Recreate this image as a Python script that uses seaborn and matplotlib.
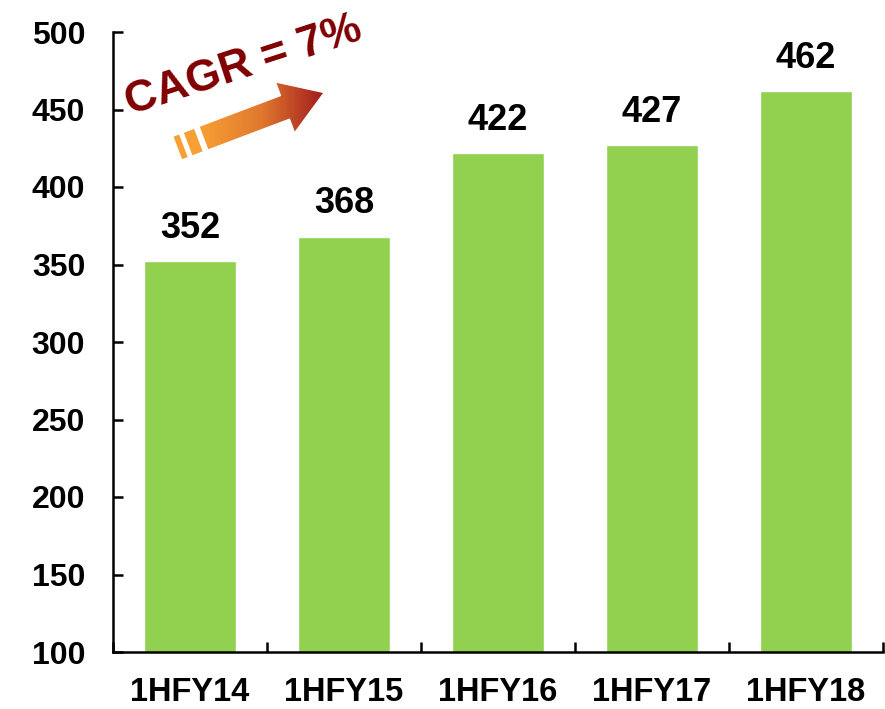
import numpy as np
import pandas as pd
import seaborn as sns
import matplotlib
matplotlib.use("Agg")
from matplotlib import pyplot as plt
from matplotlib.patches import FancyArrow, Polygon
from matplotlib.colors import LinearSegmentedColormap

periods = ["1HFY14", "1HFY15", "1HFY16", "1HFY17", "1HFY18"]
values = [352, 368, 422, 427, 462]
cagr_text = "CAGR = 7%"

df = pd.DataFrame({"period": periods, "value": values})

sns.set_style("white")
plt.rcParams["font.family"] = ["Liberation Sans", "DejaVu Sans"]
plt.rcParams["font.weight"] = "bold"
plt.rcParams["text.color"] = "black"
plt.rcParams["xtick.color"] = "black"
plt.rcParams["ytick.color"] = "black"

fig = plt.figure(figsize=(8.85, 7.09), dpi=100)
ax = fig.add_axes([113 / 885, 1 - 652 / 709, 770 / 885, 620 / 709])

sns.barplot(data=df, x="period", y="value", color="#92D050", saturation=1,
            width=0.6, ax=ax)

ax.set_ylim(100, 500)
ax.set_xlim(-0.5, 4.5)
ax.set_yticks(np.arange(100, 501, 50))
ax.set_xlabel("")
ax.set_ylabel("")

for s in ["top", "right"]:
    ax.spines[s].set_visible(False)
for s in ["left", "bottom"]:
    ax.spines[s].set_linewidth(1.8)
    ax.spines[s].set_color("black")

ax.tick_params(axis="y", direction="in", length=7, width=1.8, pad=20,
               labelsize=23, left=True, colors="black")
ax.tick_params(axis="x", which="major", length=0, pad=18, labelsize=23.5,
               colors="black")
ax.set_xticks(np.arange(-0.5, 4.6, 1), minor=True)
ax.tick_params(axis="x", which="minor", direction="in", length=7, width=1.8,
               bottom=True, colors="black")
for lab in ax.get_xticklabels() + ax.get_yticklabels():
    lab.set_fontweight("bold")

ax.bar_label(ax.containers[0], labels=[str(v) for v in values], padding=11,
             fontsize=26, fontweight="bold", color="black")

# CAGR arrow overlay in pixel coordinates
ov = fig.add_axes([0, 0, 1, 1])
ov.set_xlim(0, 885)
ov.set_ylim(0, 709)
ov.axis("off")
ov.patch.set_alpha(0)

x0, y0 = 204, 709 - 138
x1, y1 = 323, 709 - 93
arrow = FancyArrow(x0, y0, x1 - x0, y1 - y0, width=24, head_width=52,
                   head_length=40, length_includes_head=True,
                   facecolor="none", edgecolor="none")
ov.add_patch(arrow)
cmap = LinearSegmentedColormap.from_list("arr", ["#F7A035", "#E0782E", "#A0191E"])
grad = np.linspace(0, 1, 256).reshape(1, -1)
im = ov.imshow(grad, cmap=cmap, extent=[x0 - 5, x1 + 2, y0 - 45, y1 + 45],
               aspect="auto", zorder=3)
im.set_clip_path(arrow)

ang = np.arctan2(y1 - y0, x1 - x0)
d = np.array([np.cos(ang), np.sin(ang)])
n = np.array([-np.sin(ang), np.cos(ang)])
base = np.array([x0, y0])
for a, b in [(-28, -22), (-17, -6)]:
    pts = [base + d * a + n * 12, base + d * b + n * 12,
           base + d * b - n * 12, base + d * a - n * 12]
    ov.add_patch(Polygon(pts, closed=True, facecolor="#F7A035",
                         edgecolor="none", zorder=3))

ov.text(243, 709 - 66, cagr_text, rotation=18, color="#800000",
        fontsize=32, fontweight="bold", ha="center", va="center",
        rotation_mode="anchor")

fig.savefig("out.png", dpi=100)
